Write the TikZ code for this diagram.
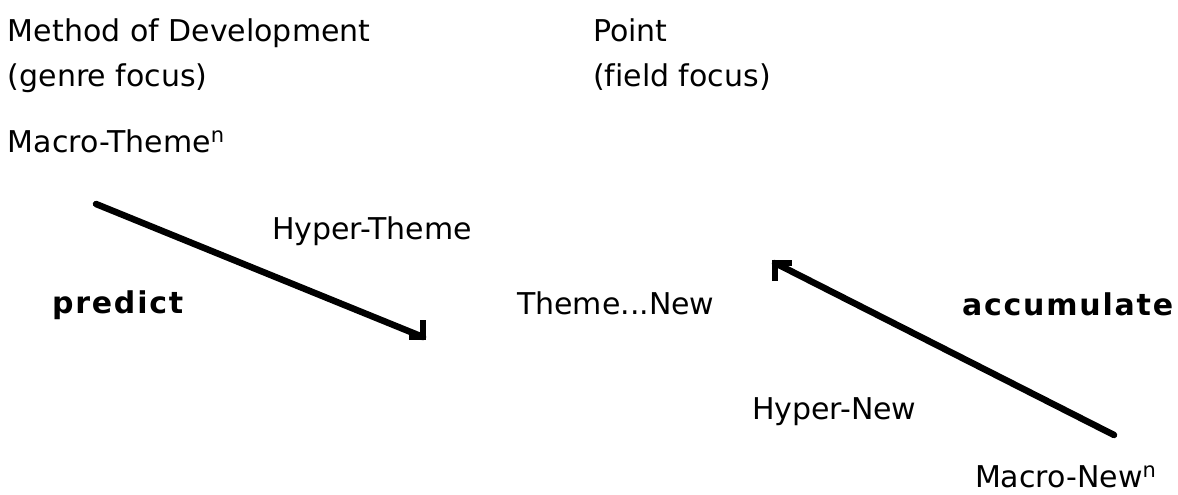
\documentclass[tikz,border=0pt]{standalone}
\usepackage{fontspec}
\setmainfont[Ligatures=NoCommon]{DejaVu Sans}
\newfontfamily\boldlab[LetterSpace=6]{DejaVu Sans Bold}
\begin{document}
\begin{tikzpicture}[x=1pt,y=-1pt,
  lab/.style={anchor=base west,inner sep=0pt,outer sep=0pt,font=\fontsize{30}{36}\selectfont},
  blab/.style={anchor=base west,inner sep=0pt,outer sep=0pt,font=\fontsize{30}{36}\boldlab},
  conn/.style={line width=6.5pt,line cap=round,line join=miter}]
\useasboundingbox (0,0) rectangle (1178,495);
\node[lab] (mod) at (8,42) {Method of Development};
\node[lab] (genre) at (8,86) {(genre focus)};
\node[lab] (point) at (593,42) {Point};
\node[lab] (field) at (593,86) {(field focus)};
\node[lab] (mth) at (8,152) {Macro-Theme\textsuperscript{n}};
\node[lab] (hth) at (272,239) {Hyper-Theme};
\node[blab] (pred) at (52,313) {predict};
\node[lab] (tn) at (517,314) {Theme...New};
\node[blab] (acc) at (962,315) {accumulate};
\node[lab] (hnew) at (752,419) {Hyper-New};
\node[lab] (mnew) at (975,487) {Macro-New\textsuperscript{n}};
\coordinate (a1s) at (96,204);
\coordinate (a1e) at (423,337);
\coordinate (a2s) at (1114,435);
\coordinate (a2e) at (775,263);
\draw[conn] (a1s) -- (a1e);
\draw[conn,line cap=butt] ([yshift=17pt]a1e) -- (a1e) -- ([xshift=-14pt]a1e);
\draw[conn] (a2s) -- (a2e);
\draw[conn,line cap=butt] ([yshift=-18pt]a2e) -- (a2e) -- ([xshift=17pt]a2e);
\end{tikzpicture}
\end{document}
